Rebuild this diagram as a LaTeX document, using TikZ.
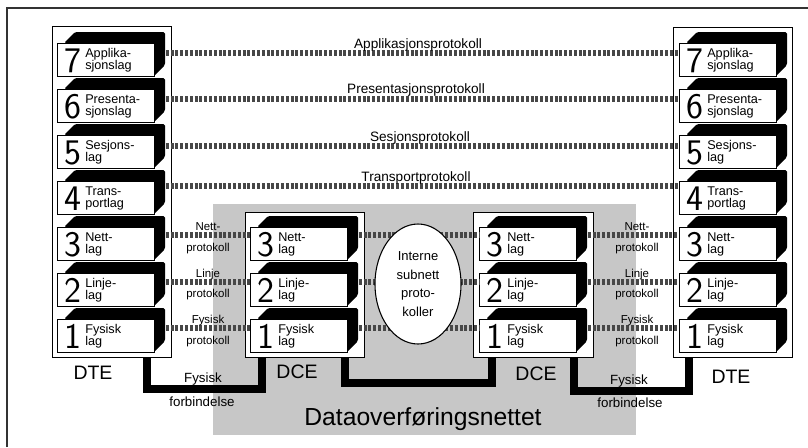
\documentclass[tikz,border=0pt]{standalone}
\usepackage{fontspec}
\setmainfont{Liberation Sans}
\usetikzlibrary{shapes.geometric,calc}
\tikzset{
  frame/.style={draw, fill=white, line width=1pt, inner sep=0pt, anchor=north west},
  front/.style={draw, fill=white, line width=0.6pt, minimum width=72.75pt, minimum height=24.75pt, inner sep=0pt, anchor=north west},
  digit/.style={anchor=east, inner sep=0pt, font=\sffamily\fontsize{27}{27}\selectfont},
  ltxt/.style={anchor=west, inner sep=0pt, align=left, font=\fontsize{9.5}{9}\selectfont},
  proto/.style={line width=4.5pt, black!72, dash pattern=on 2.2pt off 1.4pt},
  phys/.style={line width=6pt, line join=miter, line cap=butt},
  toplab/.style={anchor=base, inner sep=0pt, font=\fontsize{10.2}{12}\selectfont},
  midlab/.style={anchor=base, inner sep=0pt, font=\fontsize{8.6}{10}\selectfont},
  flab/.style={anchor=base, inner sep=0pt, font=\fontsize{10}{12}\selectfont},
  biglab/.style={anchor=base, inner sep=0pt, font=\fontsize{14.6}{16}\selectfont},
}
\newcommand\mkblock[5]{%
  \fill[rounded corners=1.2pt] (#2+7,#3) -- (#2+18,#3-11) -- (#2+108,#3-11) -- (#2+108,#3+22) -- (#2+97,#3+33) -- (#2+97,#3) -- cycle;
  \node[front] (#1) at (#2,#3) {};
  \node[digit] (#1d) at ([xshift=18.75pt,yshift=-0.6pt]#1.west) {#4};
  \node[ltxt] (#1t) at ([xshift=21pt,yshift=-0.4pt]#1.west) {#5};
}
\newcommand\protoline[3]{%
  \draw[proto] ($(#1.north east)+(11,#3)$) -- ($(#2.north west)+(0,#3)$);
}
\begin{document}
\begin{tikzpicture}[x=0.75pt,y=-0.75pt]
\useasboundingbox (0,0) rectangle (808,447);
% outer frame (partial)
\draw[line width=1pt, black!80] (7,447) -- (7,8) -- (808,8);
% gray network area
\fill[black!22] (213,204) rectangle (636,435);
% frames
\node[frame, minimum width=89.25pt, minimum height=248.25pt] (dteL) at (52,26) {};
\node[frame, minimum width=89.25pt, minimum height=247.5pt] (dteR) at (673,27) {};
\node[frame, minimum width=89.25pt, minimum height=108.75pt] (dceL) at (245,212) {};
\node[frame, minimum width=90pt, minimum height=108.75pt] (dceR) at (473,212) {};
% left DTE blocks
\mkblock{L7}{57}{43}{7}{Applika-\\sjonslag}
\mkblock{L6}{57}{89}{6}{Presenta-\\sjonslag}
\mkblock{L5}{57}{135}{5}{Sesjons-\\lag}
\mkblock{L4}{57}{181}{4}{Trans-\\portlag}
\mkblock{L3}{57}{227}{3}{Nett-\\lag}
\mkblock{L2}{57}{273}{2}{Linje-\\lag}
\mkblock{L1}{57}{319}{1}{Fysisk\\lag}
% right DTE blocks
\mkblock{R7}{679}{43}{7}{Applika-\\sjonslag}
\mkblock{R6}{679}{89}{6}{Presenta-\\sjonslag}
\mkblock{R5}{679}{135}{5}{Sesjons-\\lag}
\mkblock{R4}{679}{181}{4}{Trans-\\portlag}
\mkblock{R3}{679}{227}{3}{Nett-\\lag}
\mkblock{R2}{679}{273}{2}{Linje-\\lag}
\mkblock{R1}{679}{319}{1}{Fysisk\\lag}
% DCE blocks
\mkblock{CL3}{250}{227}{3}{Nett-\\lag}
\mkblock{CL2}{250}{273}{2}{Linje-\\lag}
\mkblock{CL1}{250}{319}{1}{Fysisk\\lag}
\mkblock{CR3}{479}{227}{3}{Nett-\\lag}
\mkblock{CR2}{479}{273}{2}{Linje-\\lag}
\mkblock{CR1}{479}{319}{1}{Fysisk\\lag}
% peer protocols, upper layers
\protoline{L7}{R7}{10}
\protoline{L6}{R6}{10}
\protoline{L5}{R5}{11}
\protoline{L4}{R4}{5}
% lower layers
\protoline{L3}{CL3}{8}
\protoline{L2}{CL2}{9}
\protoline{L1}{CL1}{9}
\protoline{CL3}{CR3}{8}
\protoline{CL2}{CR2}{9}
\protoline{CL1}{CR1}{9}
\protoline{CR3}{R3}{8}
\protoline{CR2}{R2}{9}
\protoline{CR1}{R1}{9}
% subnet protocols
\node[ellipse, draw, fill=white, line width=0.8pt, minimum width=64.5pt, minimum height=90pt, inner sep=0pt, align=center, font=\fontsize{9.75}{13.9}\selectfont] (ell) at (418,284) {Interne\\subnett\\proto-\\koller};
% physical connections
\draw[phys] ($(dteL.south west)+(95,0)$) -- ++(0,31) -| ($(dceL.south west)+(17,0)$);
\draw[phys] ($(dceL.south west)+(100,0)$) -- ++(0,25) -| ($(dceR.south west)+(19,0)$);
\draw[phys] ($(dceR.south west)+(101,0)$) -- ++(0,33) -| ($(dteR.south west)+(16,0)$);
% protocol labels
\node[toplab] (t7) at (418,48) {Applikasjonsprotokoll};
\node[toplab] (t6) at (416,93) {Presentasjonsprotokoll};
\node[toplab] (t5) at (420,141) {Sesjonsprotokoll};
\node[toplab] (t4) at (416,181) {Transportprotokoll};
\node[midlab] (m3a) at (208,230) {Nett-};
\node[midlab] (m3b) at (208,251) {protokoll};
\node[midlab] (m2a) at (208,277) {Linje};
\node[midlab] (m2b) at (208,297) {protokoll};
\node[midlab] (m1a) at (208,323) {Fysisk};
\node[midlab] (m1b) at (208,344) {protokoll};
\node[midlab] (n3a) at (637,230) {Nett-};
\node[midlab] (n3b) at (637,251) {protokoll};
\node[midlab] (n2a) at (637,277) {Linje};
\node[midlab] (n2b) at (637,297) {protokoll};
\node[midlab] (n1a) at (637,323) {Fysisk};
\node[midlab] (n1b) at (637,344) {protokoll};
% connection labels
\node[flab] (f1a) at (203,382) {Fysisk};
\node[flab] (f1b) at (202,406) {forbindelse};
\node[flab] (f2a) at (629,384) {Fysisk};
\node[flab] (f2b) at (630,407) {forbindelse};
% equipment labels
\node[biglab] (dteLl) at (93,379) {DTE};
\node[biglab] (dteRl) at (731,383) {DTE};
\node[biglab] (dceLl) at (297,378) {DCE};
\node[biglab] (dceRl) at (536,380) {DCE};
\node[anchor=base, inner sep=0pt, font=\fontsize{18.5}{20}\selectfont] (net) at (423,425) {Dataoverføringsnettet};
\end{tikzpicture}
\end{document}
